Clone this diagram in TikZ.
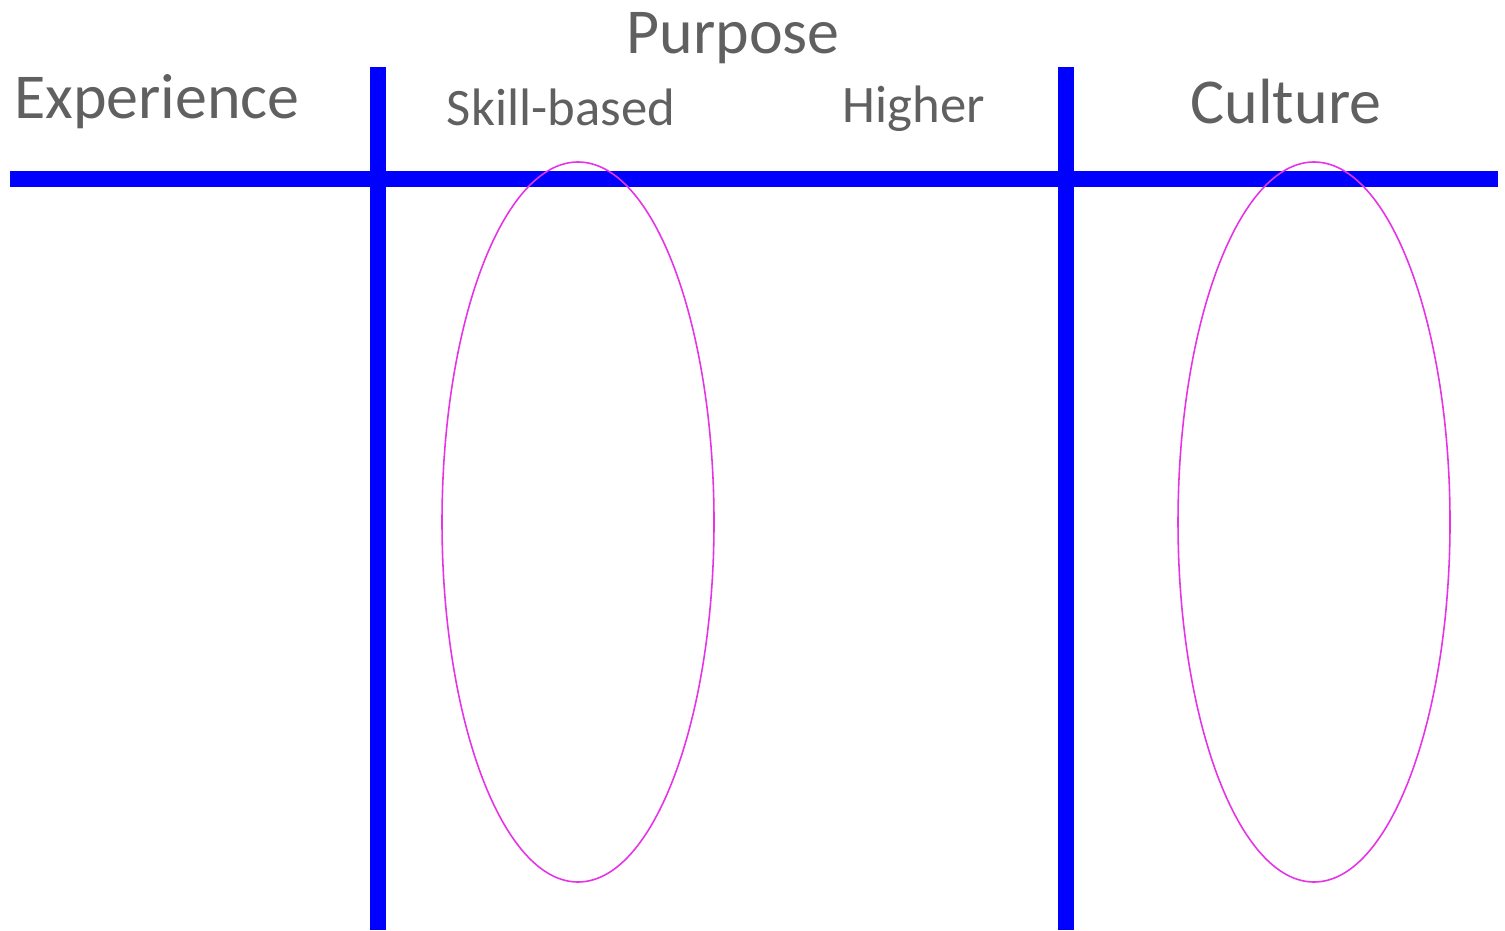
\documentclass[tikz,border=0pt]{standalone}
\usepackage{fontspec}
\setmainfont{Carlito}
\definecolor{labelgray}{HTML}{606060}
\definecolor{ringpink}{HTML}{E633E6}
\tikzset{
  bar/.style={draw=blue, line width=4.3pt},
  ring/.style={draw=ringpink, line width=0.45pt},
  biglabel/.style={text=labelgray, font=\fontsize{18.2}{22}\selectfont, inner sep=0pt},
  smalllabel/.style={text=labelgray, font=\fontsize{15}{18}\selectfont, inner sep=0pt}
}
\begin{document}
\begin{tikzpicture}
\useasboundingbox (0,0) rectangle (15.05,-9.3);
\node[biglabel] (purpose) at (7.33,-0.38) {Purpose};
\node[biglabel] (exp) at (1.57,-1.02) {Experience};
\node[smalllabel] (skill) at (5.61,-1.07) {Skill-based};
\node[smalllabel] (higher) at (9.14,-1.09) {Higher};
\node[biglabel] (culture) at (12.86,-1.02) {Culture};
\draw[bar] (0.10,-1.79) -- (14.98,-1.79);
\draw[bar] (3.78,-0.67) -- (3.78,-9.3);
\draw[bar] (10.66,-0.67) -- (10.66,-9.3);
\draw[ring] (5.78,-5.22) ellipse [x radius=1.36, y radius=3.60];
\draw[ring] (13.14,-5.22) ellipse [x radius=1.36, y radius=3.60];
\end{tikzpicture}
\end{document}
